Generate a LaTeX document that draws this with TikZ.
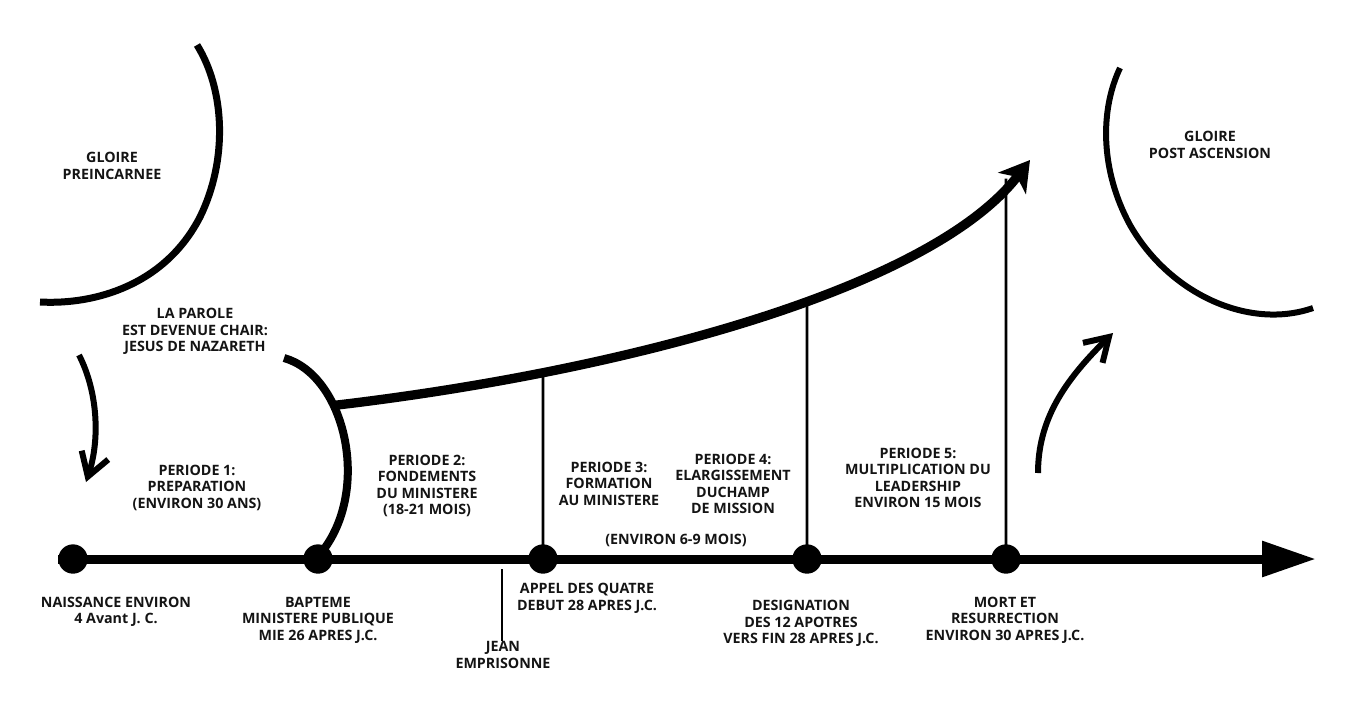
\documentclass[tikz,border=0pt]{standalone}
\usepackage{fontspec}
\setmainfont{Open Sans}
\usetikzlibrary{arrows.meta,intersections}
\begin{document}
\begin{tikzpicture}[x=0.75pt,y=-0.75pt,
  lbl/.style={font=\bfseries\fontsize{10.7}{12.4}\selectfont, align=center, inner sep=0pt, text=black!92},
  dotn/.style={circle, fill=black, minimum size=22pt, inner sep=0pt},
  tline/.style={line width=6.75pt, -{Triangle[length=40.5pt,width=25.5pt]}},
  thinline/.style={line width=2.2pt},
  jeanline/.style={line width=1.3pt},
  gloryarc/.style={line width=5.25pt},
  bracketline/.style={line width=6pt},
  bigcurve/.style={line width=7pt, -{Stealth[length=22pt,width=26pt,inset=6pt]}},
  smallarrow/.style={line width=4.5pt, -{Straight Barb[length=17pt,width=21pt,line width=4.5pt]}}
]
\useasboundingbox (0,0) rectangle (1366,715);
\fill[white] (0,0) rectangle (1366,715);

% glory arcs
\coordinate (ga0) at (197,45);
\coordinate (ga1) at (200,217);
\coordinate (ga2) at (40,302);
\draw[gloryarc] (ga0) .. controls (225,90) and (228,160) .. (ga1) .. controls (165,285) and (95,305) .. (ga2);
\coordinate (gb0) at (1120,68);
\coordinate (gb1) at (1130,225);
\coordinate (gb2) at (1313,308);
\draw[line width=4.5pt] (gb0) .. controls (1100,110) and (1100,170) .. (gb1) .. controls (1170,295) and (1250,330) .. (gb2);

\node[lbl] (gl1) at (112,166) {GLOIRE\\PREINCARNEE};
\node[lbl] (gl2) at (1210,145) {GLOIRE\\POST ASCENSION};

% timeline
\coordinate (tstart) at (58,559);
\coordinate (ttip) at (1316,559);
\draw[tline] (tstart) -- (ttip);

% bracket and big curve
\coordinate (br0) at (284,358);
\coordinate (br1) at (321,553);
\draw[bracketline] (br0) .. controls (345,375) and (372,490) .. coordinate[pos=0.35] (j) (br1);
\coordinate (ctop) at (1030,160);
\draw[bigcurve, name path=curve] (j) .. controls (620,372) and (930,290) .. (ctop);

% dots
\node[dotn] (d1) at (73,559) {};
\node[dotn] (d2) at (318,559) {};
\node[dotn] (d3) at (543,559) {};
\node[dotn] (d4) at (807,559) {};
\node[dotn] (d5) at (1006,559) {};

\path[name path=v3] (d3.center) -- ++(0,-420);
\path[name path=v4] (d4.center) -- ++(0,-420);
\path[name path=v5] (d5.center) -- ++(0,-420);
\path[name intersections={of=curve and v3, by=c3}];
\path[name intersections={of=curve and v4, by=c4}];
\path[name intersections={of=curve and v5, by=c5}];
\draw[thinline] (d3.center) -- (c3);
\draw[thinline] (d4.center) -- (c4);
\draw[thinline] (d5.center) -- ([yshift=6pt]c5);

% small arrows
\coordinate (la0) at (79,355);
\coordinate (la1) at (86,482);
\draw[smallarrow] (la0) .. controls (98,392) and (100,440) .. (la1);
\coordinate (ra0) at (1038,473);
\coordinate (ra1) at (1113,333);
\draw[smallarrow] (ra0) .. controls (1038,420) and (1064,381) .. (ra1);

% labels
\node[lbl] (parole) at (195,331.5) {LA PAROLE\\EST DEVENUE CHAIR:\\JESUS DE NAZARETH};
\node[lbl] (p1) at (197,487.5) {PERIODE 1:\\PREPARATION\\(ENVIRON 30 ANS)};
\node[lbl] (p2) at (427,486) {PERIODE 2:\\FONDEMENTS\\DU MINISTERE\\(18-21 MOIS)};
\node[lbl] (p3) at (609,483.5) {PERIODE 3:\\FORMATION\\AU MINISTERE};
\node[lbl] (p4) at (733,484) {PERIODE 4:\\ELARGISSEMENT\\DUCHAMP\\DE MISSION};
\node[lbl] (env69) at (676,540) {(ENVIRON 6-9 MOIS)};
\node[lbl] (p5) at (918,478) {PERIODE 5:\\MULTIPLICATION DU\\LEADERSHIP\\ENVIRON 15 MOIS};

\node[lbl] (naiss) at (116,612) {NAISSANCE ENVIRON\\4 Avant J. C.};
\node[lbl] (bapt) at (318,620) {BAPTEME\\MINISTERE PUBLIQUE\\MIE 26 APRES J.C.};
\node[lbl] (appel) at (587,598.5) {APPEL DES QUATRE\\DEBUT 28 APRES J.C.};
\node[lbl] (jean) at (503,655) {JEAN\\EMPRISONNE};
\node[lbl] (desig) at (801,623.5) {DESIGNATION\\DES 12 APOTRES\\VERS FIN 28 APRES J.C.};
\node[lbl] (mort) at (1005,620) {MORT ET\\RESURRECTION\\ENVIRON 30 APRES J.C.};

\coordinate (jtop) at (502,569);
\draw[jeanline] (jtop) -- (jtop |- jean.north);
\end{tikzpicture}
\end{document}
